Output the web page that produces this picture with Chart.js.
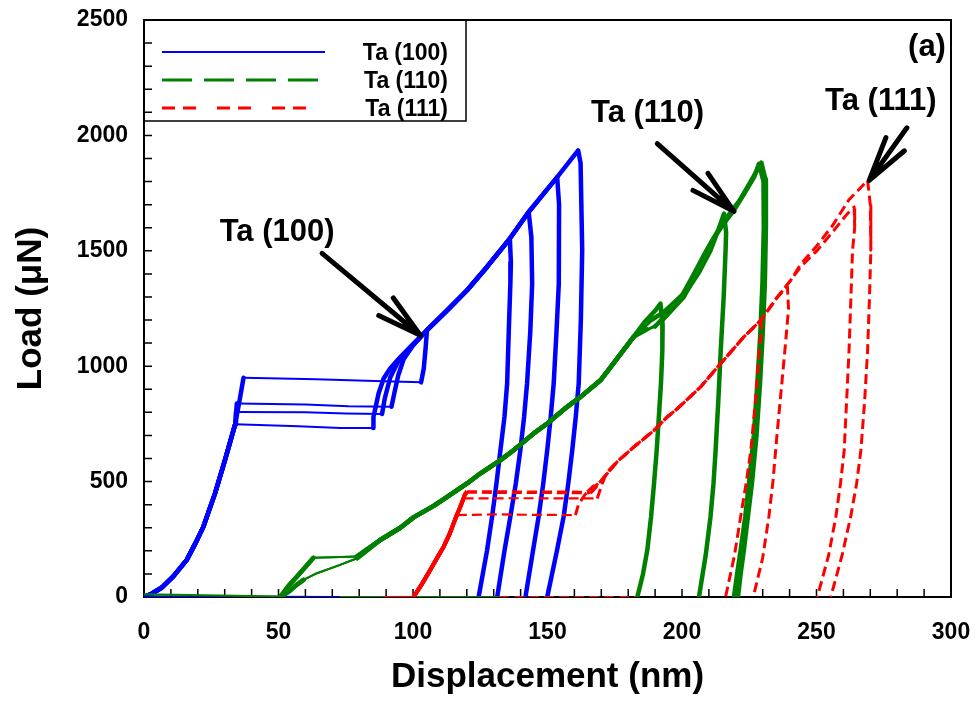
<!DOCTYPE html>
<html>
<head>
<meta charset="utf-8">
<title>Load - displacement</title>
<script src="https://cdn.jsdelivr.net/npm/chart.js"></script>
<style>
  html, body { margin: 0; padding: 0; background: #fff; }
</style>
</head>
<body>
<canvas id="chart" width="976" height="713"></canvas>
<script>
const BLUE = '#0000ff', GREEN = '#008000', RED = '#ff0000';
const FONT = "'Liberation Sans', Arial, sans-serif";

// all points are [displacement nm, load uN]

// Ta (100): elastic part shared by the four indents
const b100Rise = [[0,0],[3,15],[6.5,40],[10.9,89],[15.9,161],[19,230],[22.1,305],[26.4,449],[30.1,593],[33.9,749]];
// pop-in plateaus, then back onto the plastic branch
const b100Pop1 = [[35.5,850],[37,950],[64,943],[89,935],[103,930],[104,990],[104.7,1080]];
const b100Pop2 = [[34.5,838],[60,834],[76,826],[92,824],[93,880],[94.5,960],[96.5,1030],[100,1090]];
const b100Pop3 = [[34.2,802],[60,800],[75,795],[88.5,793],[89.5,860],[91.5,950],[94.5,1020],[99,1080]];
const b100Pop4 = [[57.3,740],[73,732],[85.2,732],[85.3,780],[87.2,882],[89.1,947],[91.5,990],[95.3,1040],[100.2,1098]];
const b100Load = [[105.2,1156],[112.7,1242],[120.1,1329],[127.5,1430],[136,1553],[143,1668],[153.6,1819],[161.4,1935]];
const b100Peak = [7, 6, 5, 4];
const b100Unload1 = [[162.3,1880],[162.9,1502],[162.4,1200],[161.6,925],[160.5,780],[159.2,636],[157.7,490],[156,348],[153.5,200],[149.9,0]];
const b100Unload2 = [[154.3,1700],[154.2,1358],[153.3,1140],[152.3,925],[151.2,780],[149.9,636],[148.4,490],[146.7,348],[144.6,200],[141.8,0]];
const b100Unload3 = [[144,1560],[144.3,1358],[143.6,1150],[142.4,925],[141.3,780],[139.9,636],[138.2,490],[136.2,348],[134,200],[131.3,0]];
const b100Unload4 = [[136.4,1450],[136.2,1359],[135.6,1150],[135,925],[134,780],[132.5,636],[131,490],[129.4,348],[127.5,200],[124.4,0]];
const b100Base = [[0,3],[73,0]];

// Ta (110)
const g110StartA = [[50.6,0],[53.5,45],[56.8,88],[60,130],[63,170],[70,172],[79.2,176]];
const g110StartB = [[50.6,0],[54,25],[57,55],[59.3,74],[64.3,103],[72.9,139],[79.2,168]];
const g110Load = [[87.8,247],[95.3,300],[100.2,345],[107.7,395],[112.7,434],[120.1,492],[125,535],[132.5,593],[137.4,636],[144.9,709],[149.9,752],[157.3,824],[162.3,867],[169.7,939],[177,1050],[182,1127]];
const g110Tail1 = [[186,1190],[190,1240],[192,1271],[192.8,1180],[192.7,1069],[192.2,930],[191.4,781],[190.6,636],[189.6,492],[188.5,348],[187.1,203],[185.5,100],[183.4,0]];
const g110Tail2 = [[188,1195],[193.3,1235],[202,1329],[206.5,1410],[210.6,1502],[213.5,1590],[215.6,1661],[216.4,1580],[216.2,1502],[215.5,1300],[214.4,1069],[213.5,850],[212.5,636],[211.7,490],[210.6,348],[208.8,180],[206.3,0]];
const g110Tail3 = [[187,1160],[192,1190],[200.7,1300],[205.5,1410],[210.6,1531],[215,1610],[219.3,1675],[223,1745],[226.8,1819],[228.6,1877],[230.3,1800],[230.4,1600],[229.9,1358],[229.1,1140],[228,925],[226.7,700],[224.9,492],[223.5,348],[221.8,203],[220.5,100],[219.3,0]];
const g110Tail4 = [[186,1150],[190,1172],[199,1285],[204,1390],[209,1500],[213,1580],[217,1650],[221.5,1720],[225.5,1800],[229.5,1882],[231,1810],[231.2,1600],[230.8,1358],[230,1140],[229,925],[227.7,700],[226,492],[224.5,348],[223,203],[221.8,100],[220.8,0]];
const g110Base = [[0,12],[51,2]];
const g110Retract = [[73,0],[132,0]];

// Ta (111)
const r111Rise = [[100.2,0],[103,50],[106.4,117],[109,170],[111.4,218],[113.5,270],[115.1,319],[116.3,355]];
const r111Pop1 = [[130,358],[145,356],[160.4,355],[161.5,400],[164,445],[169.7,500]];
const r111Pop2 = [[117.6,391],[118.8,427],[140,428],[168.5,427],[170,480],[172,540]];
const r111Pop3 = [[117.6,391],[119.5,449],[120.1,458],[140,457],[164.8,456],[167,480],[169.7,500]];
const r111Pop4 = [[117.6,391],[119.3,445],[120,452],[140,451],[166,450],[168,475],[171,520]];
const r111Load = [[175.9,586],[182.1,650],[189.6,722],[194.5,780],[198.2,815],[206.9,910],[214.4,1012],[223,1127],[229.3,1199],[235.5,1300],[240.4,1372],[244.1,1430],[250.3,1502],[256.5,1589],[261.5,1661]];
const r111Peak = [8, 9, 14, 10];
const r111Tail1 = [[229.5,1150],[228.7,1069],[227.3,850],[225.6,636],[223.8,490],[221.8,348],[219.5,180],[216.2,0]];
const r111Tail2 = [[239.2,1343],[239.6,1250],[238.5,1100],[236.9,900],[235.3,700],[233.8,500],[232.3,348],[230,170],[226.5,0]];
const r111Tail3 = [[264,1690],[264.2,1600],[263.4,1502],[262.8,1300],[262.1,1069],[261.2,850],[260.3,636],[258.9,490],[257.2,348],[254.5,180],[250.3,0]];
const r111Tail4 = [[244,1440],[250,1520],[256,1610],[262,1720],[269,1805],[270,1700],[270.2,1502],[269.7,1300],[269,1069],[267.9,850],[266.5,636],[264.9,490],[262.7,348],[259.5,180],[255.3,0]];
const r111Base1 = [[89,0],[100,0]];
const r111Base2 = [[132,0],[183,0]];

// key entries
const keyLabels = ['Ta (100)', 'Ta (110)', 'Ta (111)'];
const keyColors = [BLUE, GREEN, RED];
const keyDash = [[], [30, 12], [13, 8, 13, 21]];
const keyWidth = [2, 3, 3];

// callouts: label anchor and arrow tail -> tip, in data units
const noteText = ['Ta (100)', 'Ta (110)', 'Ta (111)'];
const noteX = [49.5, 187.2, 273.9];
const noteY = [1541, 2056, 2108];
const arrowFrom = [[66.2,1489],[190.8,1964],[283.6,2033]];
const arrowTo = [[102.7,1134],[219.3,1671],[269.6,1805]];

function sparse(ctx) {
  const dx = Math.abs(ctx.p1.parsed.x - ctx.p0.parsed.x);
  const dy = Math.abs(ctx.p1.parsed.y - ctx.p0.parsed.y);
  return dx > 3 && dy / dx < 6.5;
}

function toXY(points) {
  return points.map(p => ({x: p[0], y: p[1]}));
}

function solidSet(points, color, order) {
  return {
    data: toXY(points),
    showLine: true,
    borderColor: color,
    backgroundColor: color,
    borderWidth: 4.5,
    pointRadius: 0,
    borderJoinStyle: 'round',
    borderCapStyle: 'round',
    order: order,
    segment: {
      borderWidth: ctx => sparse(ctx) ? 2 : 4.5
    }
  };
}

function dashedSet(points, color, order) {
  return {
    data: toXY(points),
    showLine: true,
    borderColor: color,
    backgroundColor: color,
    borderWidth: 3,
    pointRadius: 0,
    borderJoinStyle: 'round',
    order: order,
    segment: {
      borderWidth: ctx => sparse(ctx) ? 2.2 : (ctx.p1.parsed.x < 121 ? 4 : 3),
      borderDash: ctx => ctx.p1.parsed.x < 121 ? [] : [10, 5]
    }
  };
}

var datasets = [];

// Ta (100)
datasets.push(solidSet(b100Base, BLUE, 2));
[b100Pop1, b100Pop2, b100Pop3, b100Pop4].forEach(function (pop, i) {
  var unload = [b100Unload1, b100Unload2, b100Unload3, b100Unload4][i];
  var pts = b100Rise.concat(pop, b100Load.slice(0, b100Peak[i] + 1), unload);
  datasets.push(solidSet(pts, BLUE, 2));
});

// Ta (110)
datasets.push(solidSet(g110Base, GREEN, 1));
datasets.push(solidSet(g110Retract, GREEN, 1));
[g110Tail1, g110Tail2, g110Tail3, g110Tail4].forEach(function (tail, i) {
  var start = i < 2 ? g110StartA : g110StartB;
  datasets.push(solidSet(start.concat(g110Load, tail), GREEN, 1));
});

// Ta (111)
datasets.push(dashedSet(r111Base1, RED, 0));
datasets.push(dashedSet(r111Base2, RED, 0));
[r111Pop1, r111Pop2, r111Pop3, r111Pop4].forEach(function (pop, i) {
  var tail = [r111Tail1, r111Tail2, r111Tail3, r111Tail4][i];
  var pts = r111Rise.concat(pop, r111Load.slice(0, r111Peak[i] + 1), tail);
  datasets.push(dashedSet(pts, RED, 0));
});

// inward tick marks and the box round the plot
const frameTicks = {
  id: 'frameTicks',
  beforeDatasetsDraw(chart) {
    const ctx = chart.ctx, a = chart.chartArea;
    const xs = chart.scales.x, ys = chart.scales.y;
    ctx.save();
    ctx.strokeStyle = '#000';
    ctx.lineWidth = 1.5;
    ctx.beginPath();
    xs.ticks.forEach(t => {
      const px = xs.getPixelForValue(t.value);
      ctx.moveTo(px, a.bottom);
      ctx.lineTo(px, a.bottom - 8);
    });
    ys.ticks.forEach(t => {
      const py = ys.getPixelForValue(t.value);
      ctx.moveTo(a.left, py);
      ctx.lineTo(a.left + 8, py);
    });
    ctx.stroke();
    ctx.lineWidth = 2;
    ctx.strokeRect(a.left, a.top, a.right - a.left, a.bottom - a.top);
    ctx.restore();
  }
};

function drawArrow(ctx, x0, y0, x1, y1) {
  const back = Math.atan2(y0 - y1, x0 - x1);
  ctx.beginPath();
  ctx.moveTo(x0, y0);
  ctx.lineTo(x1, y1);
  [-0.25, 0.25].forEach(d => {
    ctx.moveTo(x1, y1);
    ctx.lineTo(x1 + 46 * Math.cos(back + d), y1 + 46 * Math.sin(back + d));
  });
  ctx.stroke();
}

// boxed key, callout labels with arrows, panel letter
const decor = {
  id: 'decor',
  afterDraw(chart) {
    const ctx = chart.ctx, a = chart.chartArea;
    const xs = chart.scales.x, ys = chart.scales.y;
    ctx.save();

    ctx.strokeStyle = '#000';
    ctx.lineWidth = 1.5;
    ctx.strokeRect(a.left, a.top, 322, 101);
    keyLabels.forEach((label, i) => {
      const y = a.top + 32 + i * 28;
      ctx.beginPath();
      ctx.setLineDash(keyDash[i]);
      ctx.lineWidth = keyWidth[i];
      ctx.strokeStyle = keyColors[i];
      ctx.moveTo(a.left + 18, y);
      ctx.lineTo(a.left + 181, y);
      ctx.stroke();
      ctx.setLineDash([]);
      ctx.fillStyle = '#000';
      ctx.font = 'bold 23px ' + FONT;
      ctx.textAlign = 'right';
      ctx.textBaseline = 'alphabetic';
      ctx.fillText(label, a.left + 304, y + 8);
    });

    ctx.fillStyle = '#000';
    ctx.font = 'bold 31px ' + FONT;
    ctx.textAlign = 'center';
    ctx.textBaseline = 'alphabetic';
    noteText.forEach((t, i) => {
      ctx.fillText(t, xs.getPixelForValue(noteX[i]), ys.getPixelForValue(noteY[i]));
    });
    ctx.fillText('(a)', a.right - 24, a.top + 36);

    ctx.strokeStyle = '#000';
    ctx.lineWidth = 5;
    ctx.lineCap = 'round';
    arrowFrom.forEach((p, i) => {
      const q = arrowTo[i];
      drawArrow(ctx, xs.getPixelForValue(p[0]), ys.getPixelForValue(p[1]),
                xs.getPixelForValue(q[0]), ys.getPixelForValue(q[1]));
    });
    ctx.restore();
  }
};

const tickFont = {family: FONT, size: 23, weight: 'bold'};
const titleFont = {family: FONT, size: 35, weight: 'bold'};

new Chart(document.getElementById('chart'), {
  type: 'scatter',
  data: {datasets: datasets},
  options: {
    responsive: false,
    animation: false,
    devicePixelRatio: 1,
    events: [],
    layout: {padding: {left: 0, right: 25, top: 20, bottom: 0}},
    plugins: {
      legend: {display: false},
      tooltip: {enabled: false}
    },
    scales: {
      x: {
        type: 'linear',
        min: 0,
        max: 300,
        grid: {display: false, drawTicks: false},
        border: {display: false},
        ticks: {
          stepSize: 10,
          autoSkip: false,
          maxRotation: 0,
          padding: 22,
          color: '#000',
          font: tickFont,
          callback: v => (v % 50 === 0 ? v : '')
        },
        title: {display: true, text: 'Displacement (nm)', color: '#000', font: titleFont, padding: {top: 0, bottom: 15}},
        afterFit: scale => {
          scale.height = 116;
          scale.paddingLeft = 0;
          scale.paddingRight = 0;
        }
      },
      y: {
        type: 'linear',
        min: 0,
        max: 2500,
        grid: {display: false, drawTicks: false},
        border: {display: false},
        ticks: {
          stepSize: 100,
          autoSkip: false,
          padding: 16,
          color: '#000',
          font: tickFont,
          callback: v => (v % 500 === 0 ? v : '')
        },
        title: {display: true, text: 'Load (\u03bcN)', color: '#000', font: titleFont, padding: {top: 10, bottom: 0}},
        afterFit: scale => {
          scale.width = 144;
          scale.paddingTop = 0;
          scale.paddingBottom = 0;
        }
      }
    }
  },
  plugins: [frameTicks, decor]
});
</script>
</body>
</html>
